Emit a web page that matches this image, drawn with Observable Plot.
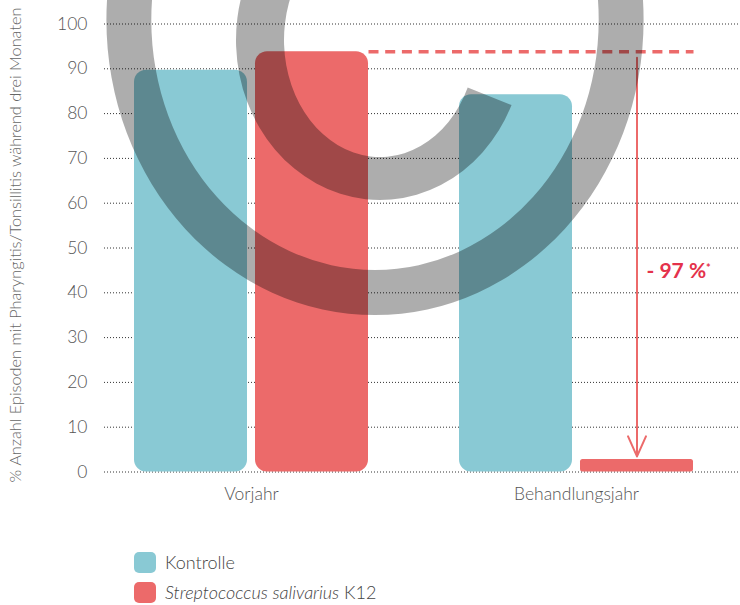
<!DOCTYPE html>
<html>
<head>
<meta charset="utf-8">
<script src="https://cdn.jsdelivr.net/npm/d3@7"></script>
<script src="https://cdn.jsdelivr.net/npm/@observablehq/plot@0.6"></script>
<style>
  body { margin: 0; background: #fff; font-family: Lato, "Open Sans", sans-serif; }
  #chart svg { display: block; }
  #legend { margin-left: 134px; padding-top: 17px; font-size: 18px; color: #444; font-weight: 300; }
  .item { display: flex; align-items: center; height: 30px; }
  .sw { width: 22px; height: 21px; border-radius: 5px; margin-right: 9px; }
</style>
</head>
<body>
<div id="chart"></div>
<div id="legend"></div>
<script>
// Periods and series
const groups = ["Vorjahr", "Behandlungsjahr"];
const seriesNames = ["Kontrolle", "Streptococcus salivarius K12"];
const kontrolle = [89.7, 84.2];
const k12 = [93.8, 2.8];
const colors = ["#89c9d4", "#ec6a6a"];
const yTicks = [0, 10, 20, 30, 40, 50, 60, 70, 80, 90, 100];
const axisTitle = "% Anzahl Episoden mit Pharyngitis/Tonsillitis während drei Monaten";
const reductionLabel = "- 97 %";

const rows = groups.flatMap((g, i) => [
  {group: g, series: seriesNames[0], value: kontrolle[i]},
  {group: g, series: seriesNames[1], value: k12[i]}
]);

// Layout: each period is one band; the two bars sit side by side at its centre
const width = 740, height = 530;
const xRange = [88.5, 738.5];
const band = (xRange[1] - xRange[0]) / groups.length;
const barWidth = 113, barGap = 8;
const outerInset = band / 2 - barGap / 2 - barWidth;
const innerInset = band / 2 + barGap / 2;
const red = colors[1];
// very short bars get tighter corners so they keep a flat top
const isShort = d => d.value < 10;

const bars = (series, insetLeft, insetRight) => [
  Plot.barY(rows.filter(d => d.series === series && !isShort(d)), {
    x: "group", y: "value", fill: "series", rx: 12, insetLeft, insetRight
  }),
  Plot.barY(rows.filter(d => d.series === series && isShort(d)), {
    x: "group", y: "value", fill: "series", rx: 2.5, insetLeft, insetRight
  })
];

const chart = Plot.plot({
  width, height,
  marginLeft: 104, marginRight: 0, marginTop: 23.5, marginBottom: 58.5,
  style: {fontFamily: "Lato, 'Open Sans', sans-serif", fontSize: "17.5px", color: "#555", fontWeight: 300, background: "transparent"},
  x: {type: "band", domain: groups, range: xRange, padding: 0, round: false, tickSize: 0, tickPadding: 16, label: null},
  y: {domain: [0, 100], ticks: yTicks, tickSize: 0, tickPadding: 17, label: null},
  color: {domain: seriesNames, range: colors},
  marks: [
    Plot.ruleY(yTicks, {stroke: "#333", strokeDasharray: "1,2", strokeWidth: 1}),
    ...bars(seriesNames[0], outerInset, innerInset),
    ...bars(seriesNames[1], innerInset, outerInset),
    // previous-year level carried across to the treatment year
    Plot.link([0], {
      x1: () => groups[0], x2: () => groups[1],
      y1: () => k12[0], y2: () => k12[0],
      dx: barGap / 2 + barWidth,
      stroke: red, strokeWidth: 3.6, strokeDasharray: "10,6.7"
    }),
    Plot.arrow([0], {
      x1: () => groups[1], x2: () => groups[1],
      y1: () => k12[0], y2: () => k12[1],
      dx: barGap / 2 + barWidth / 2,
      insetStart: 6, insetEnd: 3,
      headLength: 16.5, headAngle: 48,
      stroke: red, strokeWidth: 2
    }),
    Plot.text([reductionLabel], {
      x: () => groups[1], y: () => (k12[0] + k12[1]) / 2,
      dx: barGap / 2 + barWidth / 2 + 9.5, dy: 16,
      textAnchor: "start", fill: "#e4324b", fontSize: 21, fontWeight: 700
    }),
    Plot.text([axisTitle], {
      frameAnchor: "left", textAnchor: "middle", rotate: -90, dx: -89, dy: -3,
      fontSize: 16.3, fill: "#666", fontWeight: 300
    })
  ]
});

// superscript asterisk on the reduction label
d3.select(chart).selectAll("text")
  .filter(function () { return this.textContent === reductionLabel; })
  .append("tspan").attr("dy", "-0.55em").attr("font-size", 11).text("*");

// translucent logo watermark over the plot
const logo = {
  ring: {cx: 375, cy: 20, outer: [268.6, 295], inner: [223.7, 250]},
  hook: {cx: 380, cy: 40, outer: [144, 160], inner: [96, 117], from: 24, to: 270}
};
function ellipsePath(cx, cy, rx, ry) {
  return `M${cx - rx},${cy}A${rx},${ry} 0 1 0 ${cx + rx},${cy}A${rx},${ry} 0 1 0 ${cx - rx},${cy}Z`;
}
function partialRing({cx, cy, outer: [ox, oy], inner: [ix, iy], from, to}) {
  const rad = a => a * Math.PI / 180;
  const pt = (rx, ry, a) => [cx + rx * Math.cos(rad(a)), cy + ry * Math.sin(rad(a))];
  const large = to - from > 180 ? 1 : 0;
  return `M${pt(ox, oy, from)}A${ox},${oy} 0 ${large} 1 ${pt(ox, oy, to)}` +
         `L${pt(ix, iy, to)}A${ix},${iy} 0 ${large} 0 ${pt(ix, iy, from)}Z`;
}
const wm = d3.select(chart).append("g").attr("fill", "#000").attr("fill-opacity", 0.32);
const r = logo.ring;
wm.append("path").attr("fill-rule", "evenodd")
  .attr("d", ellipsePath(r.cx, r.cy, ...r.outer) + ellipsePath(r.cx, r.cy, ...r.inner));
wm.append("path").attr("d", partialRing(logo.hook));

document.getElementById("chart").appendChild(chart);

// legend
const legend = d3.select("#legend");
const items = legend.selectAll(".item").data(seriesNames).join("div").attr("class", "item");
items.append("div").attr("class", "sw").style("background", (d, i) => colors[i]);
items.append("span").html(d => d === seriesNames[1]
  ? "<i>Streptococcus salivarius</i> K12" : d);
</script>
</body>
</html>
